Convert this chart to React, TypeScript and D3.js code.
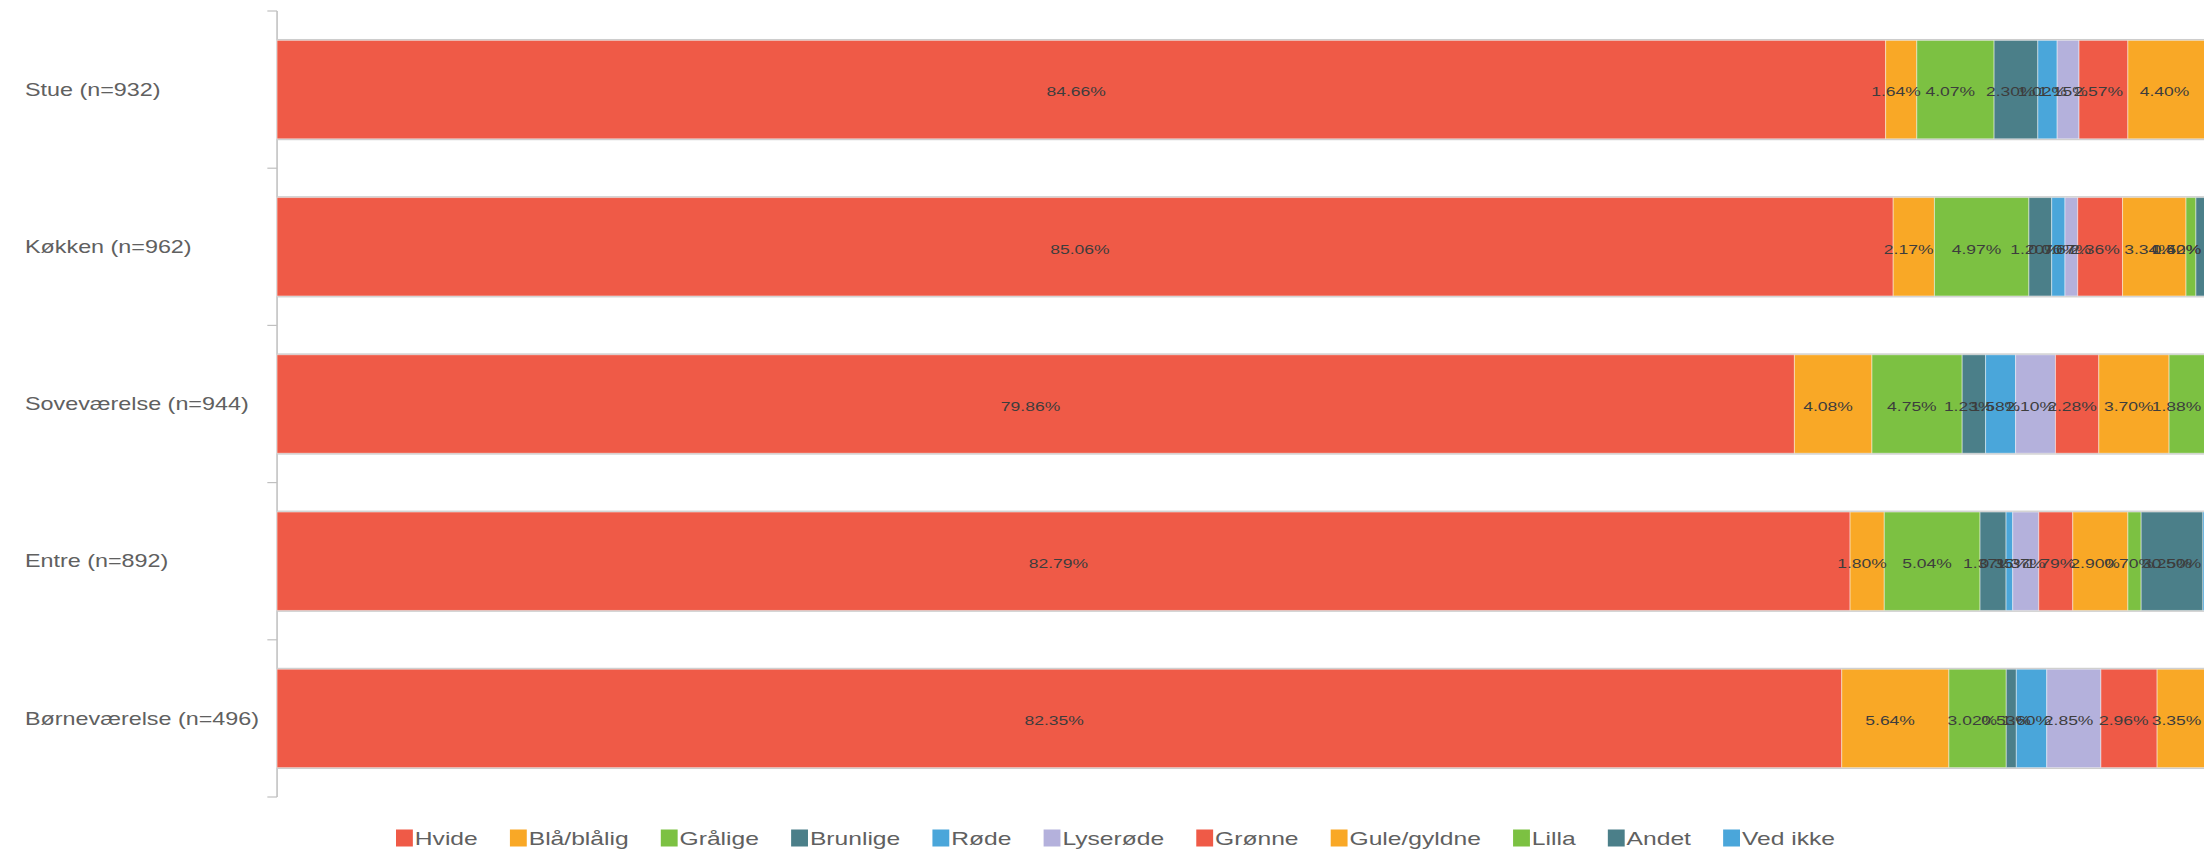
import React, { useEffect, useRef } from "react";
import * as d3 from "d3";

const categories = [
  "Stue (n=932)",
  "Køkken (n=962)",
  "Soveværelse (n=944)",
  "Entre (n=892)",
  "Børneværelse (n=496)",
];

const seriesNames = [
  "Hvide",
  "Blå/blålig",
  "Grålige",
  "Brunlige",
  "Røde",
  "Lyserøde",
  "Grønne",
  "Gule/gyldne",
  "Lilla",
  "Andet",
  "Ved ikke",
];

const seriesColors = [
  "#ef5a47",
  "#f9a826",
  "#7cc142",
  "#4b7f89",
  "#4aa6da",
  "#b4b1dc",
  "#ef5a47",
  "#f9a826",
  "#7cc142",
  "#4b7f89",
  "#4aa6da",
];

const hvide = [84.66, 85.06, 79.86, 82.79, 82.35];
const blaa = [1.64, 2.17, 4.08, 1.8, 5.64];
const graalige = [4.07, 4.97, 4.75, 5.04, 3.02];
const brunlige = [2.3, 1.2, 1.23, 1.37, 0.53];
const roede = [1.02, 0.7, 1.58, 0.35, 1.6];
const lyseroede = [1.15, 0.67, 2.1, 1.37, 2.85];
const groenne = [2.57, 2.36, 2.28, 1.79, 2.96];
const gule = [4.4, 3.34, 3.7, 2.9, 3.35];
const lilla = [1.0, 0.52, 1.88, 0.7, 0.8];
const andet = [1.5, 1.4, 1.2, 3.25, 1.2];
const vedIkke = [0.8, 0.5, 0.6, 0.5, 0.6];

const seriesValues = [
  hvide,
  blaa,
  graalige,
  brunlige,
  roede,
  lyseroede,
  groenne,
  gule,
  lilla,
  andet,
  vedIkke,
];

const W = 2204;
const H = 855;
const SX = 1.2965;
const VW = W / SX;

export default function App() {
  const ref = useRef<SVGSVGElement | null>(null);

  useEffect(() => {
    const svg = d3.select(ref.current);
    svg.selectAll("*").remove();

    const x = d3.scaleLinear().domain([0, 100]).range([213.7, 1679.2]);
    const y = d3
      .scaleBand<string>()
      .domain(categories)
      .range([11, 797])
      .paddingInner(0.375)
      .paddingOuter(0.1875);

    const rows = categories.map((c, ci) => {
      let acc = 0;
      return seriesNames.map((s, si) => {
        const v = seriesValues[si][ci];
        const seg = { cat: c, series: s, si, v, x0: acc, x1: acc + v };
        acc += v;
        return seg;
      });
    });

    // axis
    const ax = svg.append("g");
    ax.append("line")
      .attr("x1", x(0))
      .attr("x2", x(0))
      .attr("y1", 11)
      .attr("y2", 797)
      .attr("stroke", "#c0c0c0")
      .attr("stroke-width", 1.2);
    const step = y.step();
    for (let i = 0; i <= categories.length; i++) {
      const ty = 11 + i * step;
      ax.append("line")
        .attr("x1", x(0) - 7.5)
        .attr("x2", x(0))
        .attr("y1", ty)
        .attr("y2", ty)
        .attr("stroke", "#c0c0c0")
        .attr("stroke-width", 1.2);
    }

    // category labels
    svg
      .append("g")
      .selectAll("text")
      .data(categories)
      .join("text")
      .attr("x", 19.3)
      .attr("y", (d) => (y(d) as number) + y.bandwidth() / 2)
      .attr("dy", "0.35em")
      .attr("font-family", "'Liberation Sans', Arial, sans-serif")
      .attr("font-size", 18)
      .attr("fill", "#606060")
      .text((d) => d);

    // bars
    const barG = svg.append("g");
    rows.forEach((segs, ci) => {
      const by = y(categories[ci]) as number;
      barG
        .append("rect")
        .attr("x", x(0))
        .attr("y", by - 1.5)
        .attr("width", x(segs[segs.length - 1].x1) - x(0))
        .attr("height", y.bandwidth() + 3)
        .attr("fill", "#cdcdcd");
      barG
        .selectAll(null)
        .data(segs)
        .join("rect")
        .attr("x", (d) => x(d.x0))
        .attr("y", by)
        .attr("width", (d) => x(d.x1) - x(d.x0))
        .attr("height", y.bandwidth())
        .attr("fill", (d) => seriesColors[d.si])
        .attr("stroke", "rgba(255,255,255,0.45)")
        .attr("stroke-width", 0.8);
    });

    // data labels
    const labG = svg.append("g");
    rows.forEach((segs, ci) => {
      const cy = (y(categories[ci]) as number) + y.bandwidth() / 2 + 2;
      segs.forEach((d) => {
        const a = x(d.x0);
        const b = x(d.x1);
        if (a >= VW) return;
        const t = labG
          .append("text")
          .attr("y", cy)
          .attr("dy", "0.35em")
          .attr("text-anchor", "middle")
          .attr("font-family", "'Liberation Sans', Arial, sans-serif")
          .attr("font-size", 13.5)
          .attr("fill", "#3d3d3d")
          .text(d3.format(".2f")(d.v) + "%");
        const tw = (t.node() as SVGTextElement).getComputedTextLength();
        let cx = (a + b) / 2 - 4;
        if (cx + tw / 2 > VW - 2) cx = VW - 2 - tw / 2;
        t.attr("x", cx);
      });
    });

    // legend
    const legG = svg.append("g");
    const items = seriesNames.map((name, i) => {
      const g = legG.append("g");
      g.append("rect")
        .attr("x", 0)
        .attr("y", 829.5)
        .attr("width", 13)
        .attr("height", 17)
        .attr("fill", seriesColors[i]);
      const t = g
        .append("text")
        .attr("x", 14.5)
        .attr("y", 838)
        .attr("dy", "0.35em")
        .attr("font-family", "'Liberation Sans', Arial, sans-serif")
        .attr("font-size", 19)
        .attr("fill", "#606060")
        .text(name);
      const tw = (t.node() as SVGTextElement).getComputedTextLength();
      return { g, w: 14.5 + tw };
    });
    const startX = 396 / SX;
    const endX = 1835 / SX;
    const total = d3.sum(items, (d) => d.w);
    const gap = (endX - startX - total) / (items.length - 1);
    let cur = startX;
    items.forEach((it) => {
      it.g.attr("transform", `translate(${cur},0)`);
      cur += it.w + gap;
    });
  }, []);

  return (
    <svg
      ref={ref}
      width={W}
      height={H}
      viewBox={`0 0 ${VW} ${H}`}
      preserveAspectRatio="none"
      style={{ position: "absolute", left: 0, top: 0, background: "#fff" }}
    />
  );
}
